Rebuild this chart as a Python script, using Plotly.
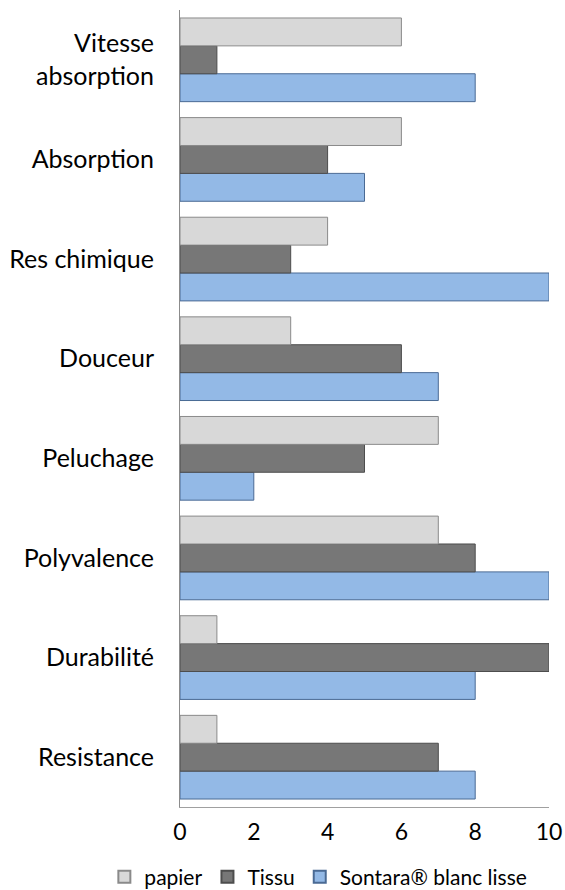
import plotly.graph_objects as go

categories = ["Resistance", "Durabilité", "Polyvalence", "Peluchage", "Douceur",
              "Res chimique", "Absorption", "Vitesse<br>absorption"]
papier = [1, 1, 7, 7, 3, 4, 6, 6]
tissu = [7, 10, 8, 5, 6, 3, 4, 1]
sontara = [8, 8, 10, 2, 7, 10, 5, 8]
x_ticks = [0, 2, 4, 6, 8, 10]

FONT = "Lato"

fig = go.Figure()
fig.add_trace(go.Bar(y=categories, x=sontara, orientation="h", name="Sontara® blanc lisse",
                     marker=dict(color="#93b9e6", line=dict(color="#4a6a94", width=1)),
                     legendrank=3))
fig.add_trace(go.Bar(y=categories, x=tissu, orientation="h", name="Tissu",
                     marker=dict(color="#777777", line=dict(color="#4d4d4d", width=1)),
                     legendrank=2))
fig.add_trace(go.Bar(y=categories, x=papier, orientation="h", name="papier",
                     marker=dict(color="#d8d8d8", line=dict(color="#8a8a8a", width=1)),
                     legendrank=1))

fig.update_layout(
    width=565, height=890,
    barmode="group", bargap=0.16, bargroupgap=0,
    plot_bgcolor="white", paper_bgcolor="white",
    margin=dict(l=180, r=16, t=10, b=83, autoexpand=False),
    font=dict(family=FONT, size=24, color="black"),
    legend=dict(orientation="h", x=-0.205, xanchor="left", y=-0.088, yanchor="middle",
                font=dict(size=21), itemwidth=30, itemsizing="constant",
                bgcolor="rgba(0,0,0,0)"),
    xaxis=dict(range=[0, 10], tickvals=x_ticks, showgrid=False, zeroline=False,
               showline=True, linecolor="#a0a0a0", linewidth=1, ticks="",
               ticklabelstandoff=4, tickfont=dict(size=23), automargin=False),
    yaxis=dict(showgrid=False, zeroline=False, showline=True, linecolor="#8c8c8c",
               linewidth=1, ticks="", ticklabelstandoff=20, tickfont=dict(size=25),
               automargin=False),
)

fig.write_html(
    "out.html",
    config={"displayModeBar": False},
    post_script="document.body.style.margin='0';document.body.style.overflow='hidden';",
)
